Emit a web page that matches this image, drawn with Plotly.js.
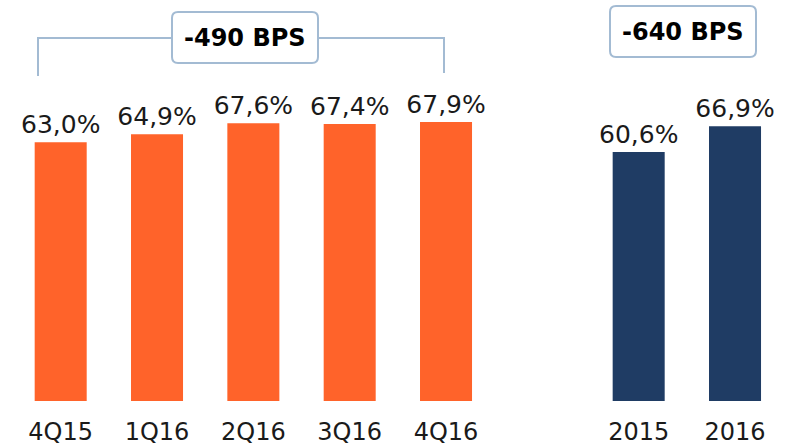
<!DOCTYPE html>
<html>
<head>
<meta charset="utf-8">
<script src="https://cdn.plot.ly/plotly-3.0.1.min.js"></script>
<style>html,body{margin:0;padding:0;background:#fff;}#chart{width:788px;height:447px;}</style>
</head>
<body>
<div id="chart"></div>
<script>
// Data
const quarters = ['4Q15', '1Q16', '2Q16', '3Q16', '4Q16'];
const quarterValues = [63.0, 64.9, 67.6, 67.4, 67.9];
const years = ['2015', '2016'];
const yearValues = [60.6, 66.9];
const categoryOrder = quarters.concat([' '], years);
const boxLabels = ['-490 BPS', '-640 BPS'];

const W = 788, H = 447, B = 46;
const plotH = H - B;
const fx = px => px / W;
const fy = py => (plotH - py) / plotH;

function roundRect(x0, y0, x1, y1, r) {
  const X = fx, Y = fy;
  return 'M' + X(x0 + r) + ',' + Y(y0) +
    ' L' + X(x1 - r) + ',' + Y(y0) +
    ' Q' + X(x1) + ',' + Y(y0) + ' ' + X(x1) + ',' + Y(y0 + r) +
    ' L' + X(x1) + ',' + Y(y1 - r) +
    ' Q' + X(x1) + ',' + Y(y1) + ' ' + X(x1 - r) + ',' + Y(y1) +
    ' L' + X(x0 + r) + ',' + Y(y1) +
    ' Q' + X(x0) + ',' + Y(y1) + ' ' + X(x0) + ',' + Y(y1 - r) +
    ' L' + X(x0) + ',' + Y(y0 + r) +
    ' Q' + X(x0) + ',' + Y(y0) + ' ' + X(x0 + r) + ',' + Y(y0) + ' Z';
}
function polyline(pts) {
  return pts.map((p, i) => (i ? 'L' : 'M') + fx(p[0]) + ',' + fy(p[1])).join(' ');
}

const lineColor = '#a3bbd3';
const font = 'DejaVu Sans, Verdana, sans-serif';

const traces = [
  {
    type: 'bar', x: quarters, y: quarterValues, width: 0.54,
    marker: {color: '#ff632a'},
    texttemplate: '%{y:.1f}%', textposition: 'outside', cliponaxis: false,
    constraintext: 'none',
    textfont: {family: font, size: 25, color: '#1a1a1a'},
    hoverinfo: 'skip'
  },
  {
    type: 'bar', x: years, y: yearValues, width: 0.54,
    marker: {color: '#1f3c64'},
    texttemplate: '%{y:.1f}%', textposition: 'outside', cliponaxis: false,
    constraintext: 'none',
    textfont: {family: font, size: 25, color: '#1a1a1a'},
    hoverinfo: 'skip'
  }
];

const layout = {
  width: W, height: H,
  margin: {l: 0, r: 0, t: 0, b: B, pad: 0},
  paper_bgcolor: '#ffffff', plot_bgcolor: '#ffffff',
  separators: ', ',
  showlegend: false,
  barmode: 'overlay',
  xaxis: {
    type: 'category', categoryorder: 'array', categoryarray: categoryOrder,
    range: [-0.63, 7.55], showgrid: false, zeroline: false, showline: false,
    ticks: '', tickfont: {family: font, size: 24, color: '#1a1a1a'},
    ticklabelstandoff: 14, fixedrange: true
  },
  yaxis: {visible: false, range: [0, 97.6], fixedrange: true},
  shapes: [
    {type: 'path', xref: 'paper', yref: 'paper', path: polyline([[38, 76], [38, 38], [172, 38]]),
     line: {color: lineColor, width: 2}},
    {type: 'path', xref: 'paper', yref: 'paper', path: polyline([[318, 38], [444, 38], [444, 73]]),
     line: {color: lineColor, width: 2}},
    {type: 'path', xref: 'paper', yref: 'paper', path: roundRect(172, 12, 318, 63, 6),
     line: {color: lineColor, width: 2}, fillcolor: '#ffffff'},
    {type: 'path', xref: 'paper', yref: 'paper', path: roundRect(610, 6, 756, 57, 6),
     line: {color: lineColor, width: 2}, fillcolor: '#ffffff'}
  ],
  annotations: [
    {xref: 'paper', yref: 'paper', x: fx(245), y: fy(38), xanchor: 'center', yanchor: 'middle',
     text: '<b>' + boxLabels[0] + '</b>', showarrow: false,
     font: {family: font, size: 24, color: '#000000'}},
    {xref: 'paper', yref: 'paper', x: fx(683), y: fy(32), xanchor: 'center', yanchor: 'middle',
     text: '<b>' + boxLabels[1] + '</b>', showarrow: false,
     font: {family: font, size: 24, color: '#000000'}}
  ]
};

Plotly.newPlot('chart', traces, layout, {displayModeBar: false, staticPlot: true});
</script>
</body>
</html>
